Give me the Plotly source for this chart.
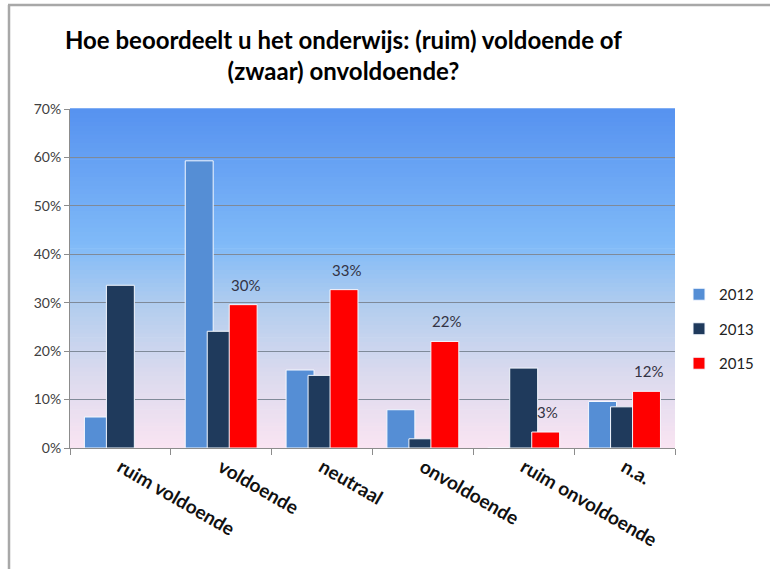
import plotly.graph_objects as go

categories = ["ruim voldoende", "voldoende", "neutraal", "onvoldoende", "ruim onvoldoende", "n.a."]
years = ["2012", "2013", "2015"]
v2012 = [0.064, 0.593, 0.161, 0.079, 0.0, 0.096]
v2013 = [0.336, 0.241, 0.150, 0.019, 0.165, 0.085]
v2015 = [None, 0.296, 0.327, 0.220, 0.033, 0.117]
series = [v2012, v2013, v2015]
colors = ["#558ED5", "#1F3A5C", "#FF0000"]

FONT = "Lato, 'Open Sans', sans-serif"
bar_w = 0.277
offsets = [-0.357, -0.139, 0.079]

fig = go.Figure()
for name, vals, col, off in zip(years, series, colors, offsets):
    fig.add_trace(go.Bar(
        x=categories, y=vals, name=name, legendgroup=name,
        marker=dict(color=col, line=dict(color="#F4F8FF", width=1)),
        width=bar_w, offset=off, hoverinfo="skip",
    ))

# data labels for 2015
for i, v in enumerate(v2015):
    if v is None:
        continue
    fig.add_annotation(x=i + offsets[2] + bar_w / 2, y=v, text=f"{round(v * 100)}%",
                       showarrow=False, yanchor="middle", yshift=20, xshift=2,
                       font=dict(family=FONT, size=15, color="#333344"))

# gradient plot background
stops = [(0.0, (250, 228, 242)), (0.22, (218, 218, 238)), (0.42, (178, 205, 238)),
         (0.6, (128, 186, 248)), (1.0, (86, 146, 240))]

def col_at(t):
    for (t0, c0), (t1, c1) in zip(stops[:-1], stops[1:]):
        if t0 <= t <= t1:
            f = (t - t0) / (t1 - t0)
            return "rgb(%d,%d,%d)" % tuple(round(a + (b - a) * f) for a, b in zip(c0, c1))
    return "rgb(%d,%d,%d)" % stops[-1][1]

N = 80
shapes = []
for k in range(N):
    y0 = k / N
    y1 = (k + 1) / N
    shapes.append(dict(type="rect", xref="paper", yref="paper", x0=0, x1=1, y0=y0, y1=y1 + 0.002,
                       fillcolor=col_at((y0 + y1) / 2), line=dict(width=0), layer="below"))

# outer frame (left and top)
L, R, T, B = 70, 95, 109, 121
W, H = 770, 569
pw, ph = W - L - R, H - T - B
def px(x):
    return (x - L) / pw
def py(y):
    return (H - B - y) / ph
shapes.append(dict(type="line", xref="paper", yref="paper", x0=px(9), x1=px(9), y0=py(5), y1=py(569),
                   line=dict(color="#A8A8A8", width=2.5), layer="above"))
shapes.append(dict(type="line", xref="paper", yref="paper", x0=px(8), x1=px(770), y0=py(5), y1=py(5),
                   line=dict(color="#A8A8A8", width=2.5), layer="above"))

fig.update_layout(
    width=W, height=H,
    margin=dict(l=L, r=R, t=T, b=B, autoexpand=False),
    barmode="overlay",
    paper_bgcolor="white",
    plot_bgcolor="rgba(0,0,0,0)",
    shapes=shapes,
    font=dict(family=FONT, color="#333333"),
    title=dict(text="<b>Hoe beoordeelt u het onderwijs: (ruim) voldoende of<br>(zwaar) onvoldoende?</b>",
               x=0.446, xanchor="center", y=1 - 49 / H, yanchor="middle",
               font=dict(family=FONT, size=24, color="#000000")),
    legend=dict(x=px(679), xanchor="left", y=py(329), yanchor="middle",
                font=dict(family=FONT, size=15, color="#222222"),
                tracegroupgap=12, bgcolor="rgba(0,0,0,0)"),
    showlegend=True,
)
fig.update_yaxes(range=[0, 0.7], dtick=0.1, tickformat=".0%", showgrid=True,
                 gridcolor="#7F8A99", gridwidth=1, showline=True, linecolor="#8C8C8C",
                 ticks="outside", ticklen=5, tickcolor="#8C8C8C", zeroline=False,
                 tickfont=dict(family=FONT, size=14, color="#404040"))
fig.update_xaxes(showline=True, linecolor="#8C8C8C", ticks="outside", ticklen=6,
                 tickcolor="#8C8C8C", tickson="boundaries", tickangle=30,
                 range=[-0.5, 5.5], showgrid=False,
                 tickfont=dict(family=FONT, size=19, color="#111111", weight="bold"))

fig.write_html("out.html", config={"displayModeBar": False},
               post_script="document.body.style.margin='0';")
